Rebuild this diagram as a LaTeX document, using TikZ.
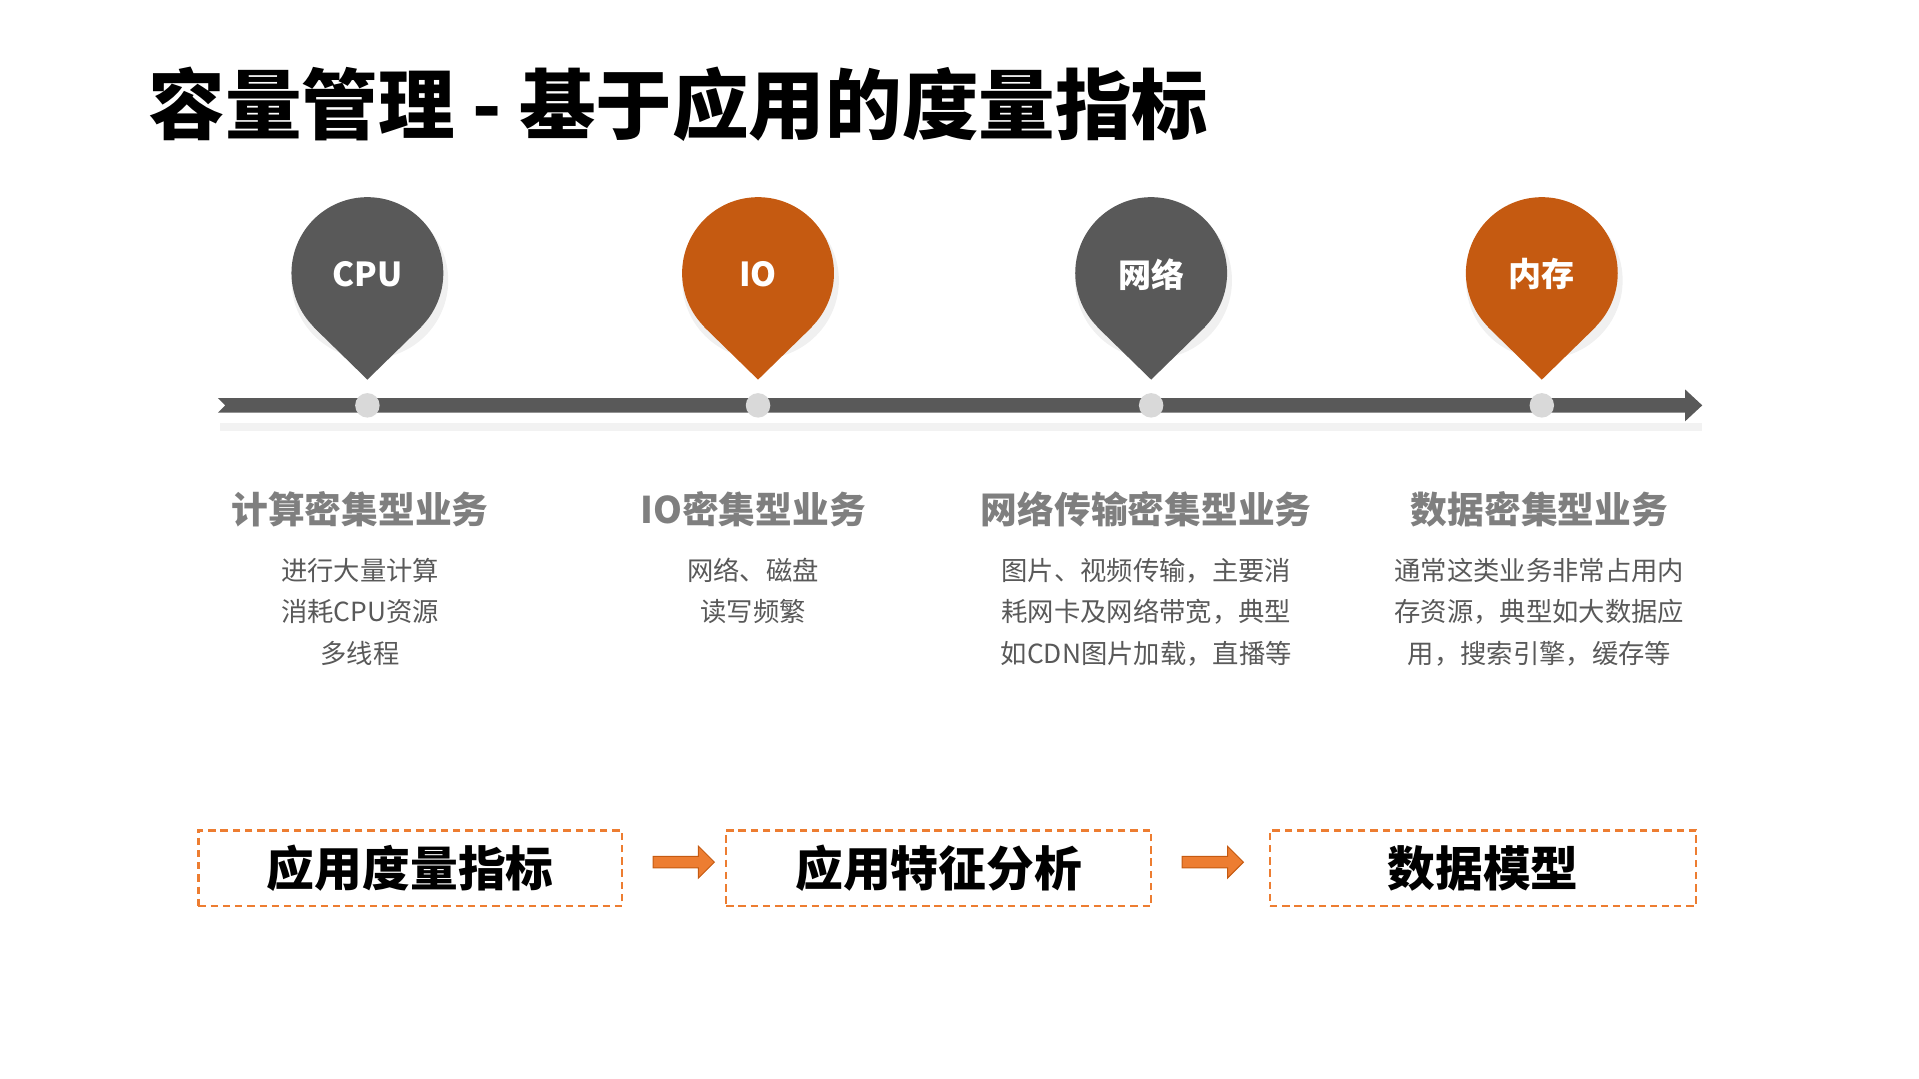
\documentclass[tikz,border=0pt]{standalone}
\usepackage{fontspec}
\setmainfont{Noto Sans CJK SC}
\usetikzlibrary{arrows.meta,shapes.arrows}
\definecolor{dg}{HTML}{595959}
\definecolor{org}{HTML}{C55A11}
\definecolor{lor}{HTML}{ED7D31}
\definecolor{hg}{HTML}{7F7F7F}
\tikzset{
 head/.style={font=\fontsize{30}{32}\selectfont\bfseries,text=hg},
 body/.style={font=\fontsize{21.5}{34}\selectfont,text=dg,align=center},
 pinlab/.style={font=\fontsize{27}{28}\selectfont\bfseries,text=white},
 dbox/.style={draw=lor,dashed,line width=2pt,dash pattern=on 6pt off 4pt,minimum width=346pt,minimum height=62pt,font=\fontsize{39}{40}\selectfont\bfseries},
 barr/.style={single arrow,fill=lor,draw=org,line width=0.8pt,minimum height=50pt,minimum width=26pt,single arrow head extend=6pt,inner sep=3pt}
}
\begin{document}
\begin{tikzpicture}[x=1pt,y=-1pt]
\useasboundingbox (0,0) rectangle (1567,881);
\node[anchor=west,font=\fontsize{62.5}{66}\selectfont\bfseries] (title) at (118,85) {容量管理 - 基于应用的度量指标};
% bar
\fill[black!5] (180,345) rectangle (1390,352);
\fill[dg] (178,325) -- (1376,325) -- (1376,318) -- (1390,331) -- (1376,344) -- (1376,337) -- (178,337) -- (184,331) -- cycle;
\foreach \x/\c/\t/\n in {300/dg/CPU/a,619/org/IO/b,940/dg/网络/c,1259/org/内存/d}{
  \fill[black!6] (\x+2,229) circle (64);
  \fill[\c] (\x,223) circle (62);
  \fill[\c] (\x,310) -- (\x-44,267) -- (\x+44,267) -- cycle;
  \node[pinlab] (p\n) at (\x,224) {\t};
  \fill[black!15] (\x,331) circle (10);
}
\node[head] (h1) at (294,416) {计算密集型业务};
\node[head] (h2) at (615,416) {IO密集型业务};
\node[head] (h3) at (936,416) {网络传输密集型业务};
\node[head] (h4) at (1257,416) {数据密集型业务};
\node[body,anchor=north] (b1) at (294,452) {进行大量计算\\消耗CPU资源\\多线程};
\node[body,anchor=north] (b2) at (615,452) {网络、磁盘\\读写频繁};
\node[body,anchor=north] (b3) at (936,452) {图片、视频传输，主要消\\耗网卡及网络带宽，典型\\如CDN图片加载，直播等};
\node[body,anchor=north] (b4) at (1257,452) {通常这类业务非常占用内\\存资源，典型如大数据应\\用，搜索引擎，缓存等};
\node[dbox] (m1) at (335,709) {应用度量指标};
\node[dbox,minimum width=347pt] (m2) at (766.5,709) {应用特征分析};
\node[dbox,minimum width=348pt] (m3) at (1211,709) {数据模型};
\node[barr] (a1) at (556,704) {};
\node[barr] (a2) at (988,704) {};
\end{tikzpicture}
\end{document}
